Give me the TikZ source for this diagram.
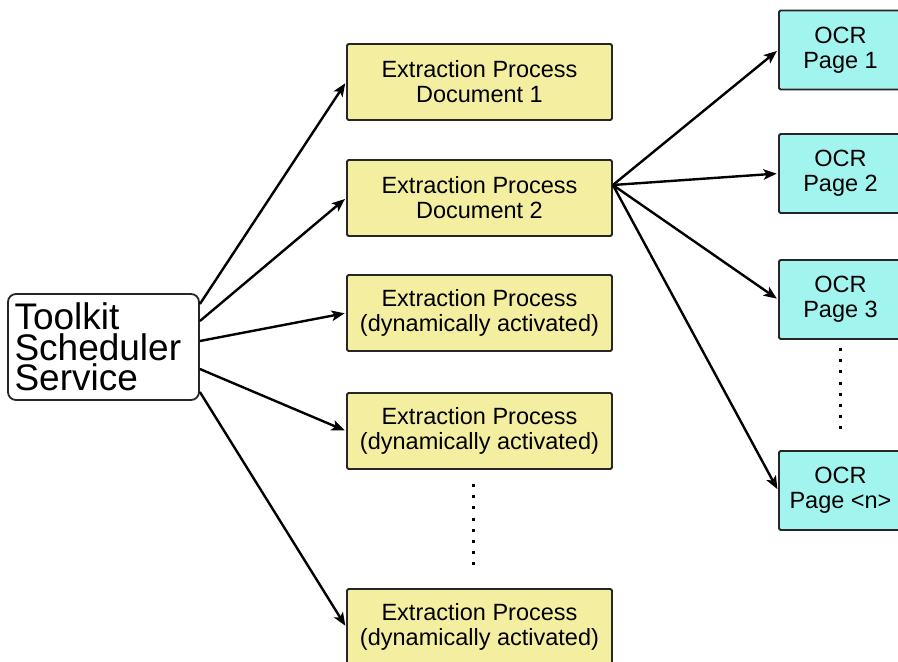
\documentclass[tikz,border=0pt]{standalone}
\usepackage{fontspec}
\setmainfont{Liberation Sans}
\usetikzlibrary{arrows.meta}
\definecolor{procfill}{RGB}{244,239,160}
\definecolor{ocrfill}{RGB}{162,245,238}
\begin{document}
\begin{tikzpicture}[x=1pt,y=-1pt,
  box/.style={draw=black!85, line width=1.8pt, rounded corners=1.5pt, inner sep=0pt,
    align=center, font=\fontsize{23.5}{25}\selectfont},
  proc/.style={box, fill=procfill, minimum width=265pt, minimum height=76pt},
  ocr/.style={box, fill=ocrfill, minimum width=123pt, minimum height=79pt},
  conn/.style={line width=2.4pt, shorten >=1.5pt,
    -{Stealth[length=13pt,width=10.5pt,inset=3pt]}},
  dots/.style={line width=3pt, dash pattern=on 3pt off 8.2pt}
]
\useasboundingbox (0,0) rectangle (898,662);

% scheduler
\node[draw=black!85, line width=1.8pt, rounded corners=8pt, fill=white,
  minimum width=191pt, minimum height=106pt, text width=178pt, inner sep=0pt,
  align=left, font=\fontsize{37}{30.7}\selectfont] (tk) at (103.5,347)
  {Toolkit\\Scheduler\\Service};

% extraction processes
\node[proc] (p1) at (479.5,82)  {Extraction Process\\Document 1};
\node[proc] (p2) at (479.5,198) {Extraction Process\\Document 2};
\node[proc] (p3) at (479.5,313) {Extraction Process\\(dynamically activated)};
\node[proc] (p4) at (479.5,431) {Extraction Process\\(dynamically activated)};
\node[proc] (p5) at (479.5,627) {Extraction Process\\(dynamically activated)};

% OCR workers
\node[ocr] (o1) at (840.5,50)    {OCR\\Page 1};
\node[ocr] (o2) at (840.5,173.5) {OCR\\Page 2};
\node[ocr] (o3) at (840.5,299.5) {OCR\\Page 3};
\node[ocr] (on) at (840.5,490.5) {OCR\\Page <n>};

% scheduler to processes
\draw[conn] ([yshift=43pt]tk.east)  -- (p1.west);
\draw[conn] ([yshift=26pt]tk.east)  -- (p2.west);
\draw[conn] ([yshift=6pt]tk.east)   -- (p3.west);
\draw[conn] ([yshift=-22pt]tk.east) -- (p4.west);
\draw[conn] ([yshift=-45pt]tk.east) -- (p5.west);

% document 2 to OCR pages
\coordinate (fan) at ([yshift=13pt]p2.east);
\draw[conn] (fan) -- (o1.west);
\draw[conn] (fan) -- (o2.west);
\draw[conn] (fan) -- (o3.west);
\draw[conn] (fan) -- (on.west);

% elided items
\draw[dots] ([xshift=-6.5pt,yshift=-14pt]p4.south) -- ([xshift=-6.5pt,yshift=17pt]p5.north);
\draw[dots] ([yshift=-8pt]o3.south) -- ([yshift=15pt]on.north);
\end{tikzpicture}
\end{document}
